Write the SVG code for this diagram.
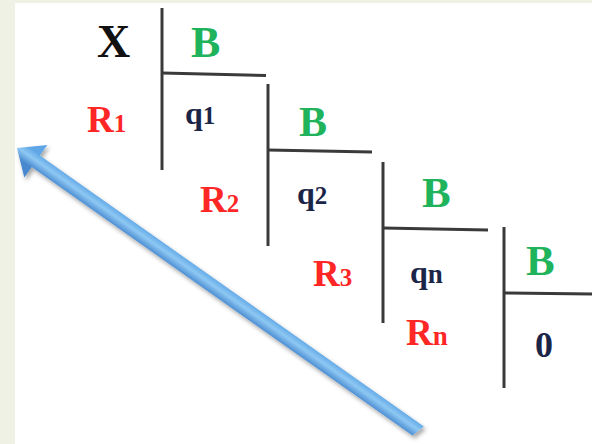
<svg xmlns="http://www.w3.org/2000/svg" width="592" height="444" viewBox="0 0 592 444">
<defs>
<style>
.ln{stroke:#3a3a3a;stroke-width:3;fill:none;stroke-linecap:butt}
.t{font-family:"Liberation Serif","Times New Roman",serif;font-weight:bold}
.blk{fill:#111111}
.grn{fill:#1fb35c}
.red{fill:#ff2626}
.nav{fill:#1b2548}
</style>
<linearGradient id="ag" gradientUnits="userSpaceOnUse" x1="0" y1="-8" x2="0" y2="8">
<stop offset="0" stop-color="#5ea6e6"/>
<stop offset="0.45" stop-color="#8ec8f3"/>
<stop offset="1" stop-color="#4688cf"/>
</linearGradient>
<filter id="sh" x="-10%" y="-30%" width="120%" height="160%">
<feDropShadow dx="2" dy="3" stdDeviation="2" flood-color="#000" flood-opacity="0.35"/>
</filter>
</defs>
<rect x="0" y="0" width="592" height="444" fill="#eef1e3"/>
<rect x="15" y="3" width="577" height="441" fill="#ffffff"/>

<g id="connectors">
<line class="ln" x1="162" y1="8" x2="162" y2="170"/>
<line class="ln" x1="162" y1="73" x2="266" y2="75.5"/>
<line class="ln" x1="268" y1="84" x2="268" y2="246"/>
<line class="ln" x1="268" y1="150" x2="372" y2="152"/>
<line class="ln" x1="383" y1="162" x2="383" y2="323"/>
<line class="ln" x1="383" y1="228" x2="488" y2="230"/>
<line class="ln" x1="504" y1="227" x2="504" y2="388"/>
<line class="ln" x1="504" y1="293" x2="592" y2="294"/>
</g>

<g id="arrow" filter="url(#sh)">
<g transform="translate(17,148) rotate(35.2)">
<polygon points="0,0 23,-20 23,-7 493,-7 489,7 23,7 23,20" fill="url(#ag)"/>
</g>
</g>

<g id="node-X"><text class="t blk" x="97" y="57" font-size="46">X</text></g>
<g id="node-B1"><text class="t grn" x="191" y="57" font-size="44">B</text></g>
<g id="node-R1"><text class="t red" x="87" y="132"><tspan font-size="37">R</tspan><tspan font-size="25">1</tspan></text></g>
<g id="node-q1"><text class="t nav" x="185" y="124"><tspan font-size="32">q</tspan><tspan font-size="25">1</tspan></text></g>

<g id="node-B2"><text class="t grn" x="299" y="136" font-size="42">B</text></g>
<g id="node-R2"><text class="t red" x="200" y="212"><tspan font-size="37">R</tspan><tspan font-size="25">2</tspan></text></g>
<g id="node-q2"><text class="t nav" x="297" y="204"><tspan font-size="32">q</tspan><tspan font-size="25">2</tspan></text></g>

<g id="node-B3"><text class="t grn" x="422" y="207" font-size="43">B</text></g>
<g id="node-R3"><text class="t red" x="313" y="286"><tspan font-size="37">R</tspan><tspan font-size="25">3</tspan></text></g>
<g id="node-qn"><text class="t nav" x="410" y="283"><tspan font-size="32">q</tspan><tspan font-size="27">n</tspan></text></g>
<g id="node-Rn"><text class="t red" x="406" y="345"><tspan font-size="37">R</tspan><tspan font-size="27">n</tspan></text></g>

<g id="node-B4"><text class="t grn" x="526" y="275" font-size="43">B</text></g>
<g id="node-0"><text class="t nav" x="535" y="357" font-size="36">0</text></g>
</svg>
